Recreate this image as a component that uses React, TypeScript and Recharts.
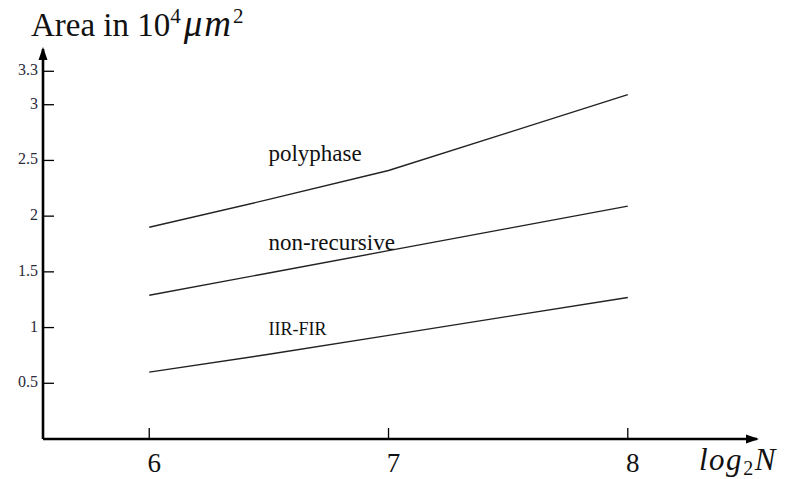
import React from "react";
import { LineChart, Line, XAxis, YAxis, ReferenceDot } from "recharts";

const log2N = [6, 6.5, 7, 7.5, 8];
const polyphase = [1.9, 2.15, 2.41, 2.75, 3.09];
const nonRecursive = [1.29, 1.49, 1.69, 1.89, 2.09];
const iirFir = [0.6, 0.76, 0.93, 1.1, 1.27];
const xTicks = [6, 7, 8];
const yTicks = [0.5, 1, 1.5, 2, 2.5, 3, 3.3];
const xDomain = [5.556, 8.54];
const yDomain = [0, 3.5];

const seriesLabels = [
  { text: "polyphase", x: 6.498, y: 2.495, size: 23 },
  { text: "non-recursive", x: 6.498, y: 1.7, size: 23 },
  { text: "IIR-FIR", x: 6.498, y: 0.93, size: 18 },
];

const data = log2N.map((x, i) => ({
  x,
  polyphase: polyphase[i],
  nonRecursive: nonRecursive[i],
  iirFir: iirFir[i],
}));

const SERIF = "'Liberation Serif', 'DejaVu Serif', serif";

const YTick = (props: any) => {
  const { x, y, payload } = props;
  return (
    <g>
      <line x1={x} x2={x + 11} y1={y} y2={y} stroke="#000" strokeWidth={1.3} />
      <text x={x - 5} y={y + 4} textAnchor="end" fontFamily={SERIF} fontSize={16} fill="#2a2a3a">
        {payload.value}
      </text>
    </g>
  );
};

const XTick = (props: any) => {
  const { x, y, payload } = props;
  return (
    <g>
      <line x1={x} x2={x} y1={y - 11} y2={y} stroke="#000" strokeWidth={1.3} />
      <text x={x + 5} y={y + 33} textAnchor="middle" fontFamily={SERIF} fontSize={27} fill="#111">
        {payload.value}
      </text>
    </g>
  );
};

const Title = (props: any) => {
  const { cx, cy } = props;
  return (
    <text x={cx - 12} y={cy - 13} fontFamily={SERIF} fontSize={33} fill="#111">
      <tspan>Area in 10</tspan>
      <tspan fontSize={21} dy={-13}>4</tspan>
      <tspan fontStyle="italic" fontSize={37} letterSpacing={2} dx={3} dy={13}>μm</tspan>
      <tspan fontSize={21} dy={-13}>2</tspan>
    </text>
  );
};

const XAxisTitle = (props: any) => {
  const { cx, cy } = props;
  return (
    <text x={cx - 58} y={cy + 31} fontFamily={SERIF} fontSize={31} fontStyle="italic" letterSpacing={1.5} fill="#111">
      <tspan>log</tspan>
      <tspan fontSize={20} fontStyle="normal" dy={5}>2</tspan>
      <tspan dy={-5}>N</tspan>
    </text>
  );
};

const ArrowRight = (props: any) => {
  const { cx, cy } = props;
  return <polygon points={`${cx + 2},${cy} ${cx - 11},${cy - 4.5} ${cx - 11},${cy + 4.5}`} fill="#000" />;
};

const ArrowUp = (props: any) => {
  const { cx, cy } = props;
  return <polygon points={`${cx},${cy - 2} ${cx - 4.5},${cy + 11} ${cx + 4.5},${cy + 11}`} fill="#000" />;
};

const makeLabel = (text: string, size: number) => (props: any) => (
  <text x={props.cx} y={props.cy} fontFamily={SERIF} fontSize={size} fill="#111">
    {text}
  </text>
);

export default function App() {
  return (
    <div style={{ position: "absolute", left: 0, top: 0, width: 791, height: 479, background: "#fff" }}>
      <LineChart width={791} height={479} data={data} margin={{ top: 49, right: 34, bottom: 0, left: 8 }}>
        <XAxis
          dataKey="x"
          type="number"
          domain={xDomain}
          ticks={xTicks}
          allowDataOverflow
          height={40}
          tickSize={0}
          tickMargin={0}
          tickLine={false}
          axisLine={{ stroke: "#000", strokeWidth: 2.6 }}
          tick={<XTick />}
        />
        <YAxis
          type="number"
          domain={yDomain}
          ticks={yTicks}
          allowDataOverflow
          width={35}
          tickSize={0}
          tickMargin={0}
          tickLine={false}
          axisLine={{ stroke: "#000", strokeWidth: 2.6 }}
          tick={<YTick />}
        />
        <Line dataKey="polyphase" stroke="#222" strokeWidth={1.4} dot={false} isAnimationActive={false} />
        <Line dataKey="nonRecursive" stroke="#222" strokeWidth={1.4} dot={false} isAnimationActive={false} />
        <Line dataKey="iirFir" stroke="#222" strokeWidth={1.4} dot={false} isAnimationActive={false} />
        <ReferenceDot x={xDomain[1]} y={yDomain[0]} r={0} ifOverflow="visible" shape={<ArrowRight />} />
        <ReferenceDot x={xDomain[0]} y={yDomain[1]} r={0} ifOverflow="visible" shape={<ArrowUp />} />
        <ReferenceDot x={xDomain[0]} y={yDomain[1]} r={0} ifOverflow="visible" shape={<Title />} />
        <ReferenceDot x={xDomain[1]} y={yDomain[0]} r={0} ifOverflow="visible" shape={<XAxisTitle />} />
        {seriesLabels.map((l) => (
          <ReferenceDot key={l.text} x={l.x} y={l.y} r={0} ifOverflow="visible" shape={makeLabel(l.text, l.size)} />
        ))}
      </LineChart>
    </div>
  );
}
